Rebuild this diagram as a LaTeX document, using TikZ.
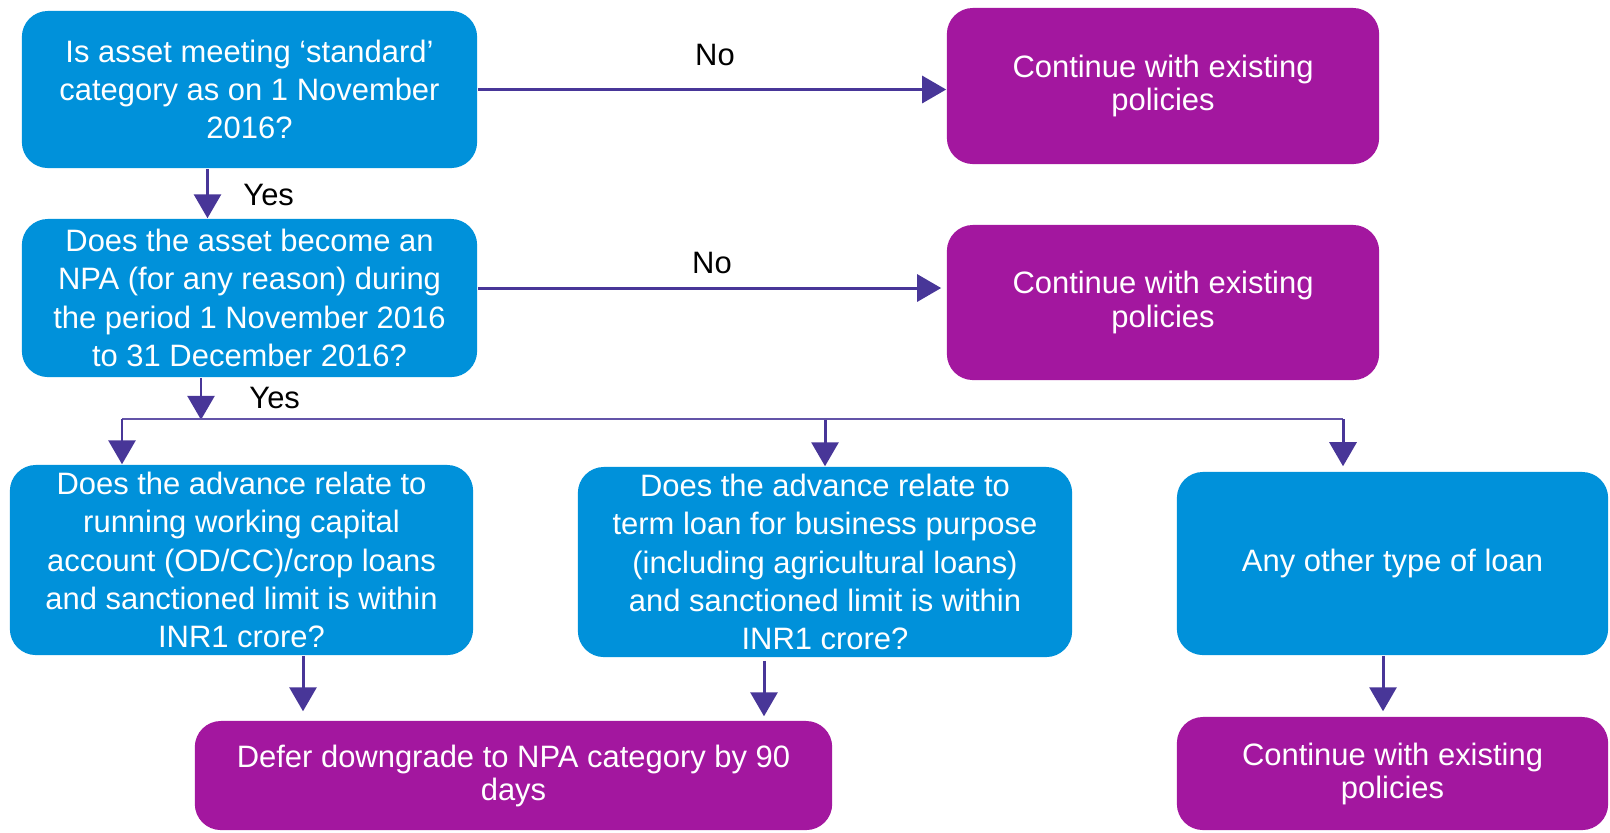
\documentclass[tikz,border=0pt]{standalone}
\usepackage{fontspec}
\setmainfont{Liberation Sans}
\usepackage{xcolor}
\usepackage{tikz}
\usetikzlibrary{arrows.meta,positioning,calc}
\definecolor{qblue}{HTML}{0091DA}
\definecolor{qpurple}{HTML}{A3179F}
\definecolor{qviolet}{HTML}{483698}
\tikzset{
  >={Triangle[length=2.4mm, width=2.7mm]},
}

\begin{document}
\begin{tikzpicture}[x=0.01cm, y=-0.01cm]
  \tikzset{
    qbox/.style={fill=qblue, text=white, rounded corners=2.6mm, align=center, inner sep=0pt, font=\fontsize{8.8}{10.9}\selectfont},
    abox/.style={qbox, fill=qpurple, font=\fontsize{8.8}{9.4}\selectfont},
    conn/.style={->, qviolet, line width=0.85pt},
    bus/.style={qviolet!85, line width=0.55pt},
    lbl/.style={font=\fontsize{8.8}{10}\selectfont}
  }
  \useasboundingbox (0,0) rectangle (1610,832);

  % questions
  \node[qbox, minimum width=4.55cm, minimum height=1.57cm] (std) at (249.5,89.5)
    {Is asset meeting ‘standard’\\category as on 1 November\\2016?};
  \node[qbox, minimum width=4.55cm, minimum height=1.58cm] (npa) at (249.5,298)
    {Does the asset become an\\NPA (for any reason) during\\the period 1 November 2016\\to 31 December 2016?};
  \node[qbox, minimum width=4.63cm, minimum height=1.90cm] (wc) at (241.5,560)
    {Does the advance relate to\\running working capital\\account (OD/CC)/crop loans\\and sanctioned limit is within\\INR1 crore?};
  \node[qbox, minimum width=4.94cm, minimum height=1.90cm] (tl) at (825,562)
    {Does the advance relate to\\term loan for business purpose\\(including agricultural loans)\\and sanctioned limit is within\\INR1 crore?};
  \node[qbox, minimum width=4.31cm, minimum height=1.83cm] (other) at (1392.5,563.5)
    {Any other type of loan};

  % outcomes
  \node[abox, minimum width=4.32cm, minimum height=1.56cm] (keep1) at (1163,86)
    {Continue with existing\\policies};
  \node[abox, minimum width=4.32cm, minimum height=1.55cm] (keep2) at (1163,302.5)
    {Continue with existing\\policies};
  \node[abox, minimum width=6.37cm, minimum height=1.09cm] (defer) at (513.5,775.5)
    {Defer downgrade to NPA category by 90\\days};
  \node[abox, minimum width=4.31cm, minimum height=1.13cm] (keep3) at (1392.5,773.5)
    {Continue with existing\\policies};

  % labels
  \node[lbl] (no1) at (715,55) {No};
  \node[lbl] (no2) at (712,263) {No};
  \node[lbl, anchor=west] (yes1) at (231,195) {Yes};
  \node[lbl, anchor=west] (yes2) at (237,398) {Yes};

  % connectors
  \draw[conn] (std.east) -- (std.east -| keep1.west);
  \coordinate (n2) at ($(npa.east)+(0,-10)$);
  \draw[conn, shorten >=0.05cm] (n2) -- (n2 -| keep2.west);
  \draw[conn] ($(std.south)+(-42,0)$) -- ($(npa.north)+(-42,0)$);

  \coordinate (split) at ($(npa.south)+(-48.5,42)$);
  \coordinate (busL) at (122,419);
  \coordinate (busR) at (1343,419);
  \draw[conn] ($(npa.south)+(-48.5,0)$) -- (split);
  \draw[bus] (busL) -- (busR);
  \draw[conn] (busL) -- (busL |- wc.north);
  \draw[conn] (split -| tl.north) -- (tl.north);
  \draw[conn, shorten >=0.05cm] (busR) -- (busR |- other.north);

  \coordinate (wcout) at ($(wc.south)+(61.5,0)$);
  \coordinate (tlout) at ($(tl.south)+(-61,3)$);
  \coordinate (otout) at ($(other.south)+(-9.5,0)$);
  \draw[conn, shorten >=0.09cm] (wcout) -- (wcout |- defer.north);
  \draw[conn, shorten >=0.04cm] (tlout) -- (tlout |- defer.north);
  \draw[conn, shorten >=0.05cm] (otout) -- (otout |- keep3.north);
\end{tikzpicture}
\end{document}
